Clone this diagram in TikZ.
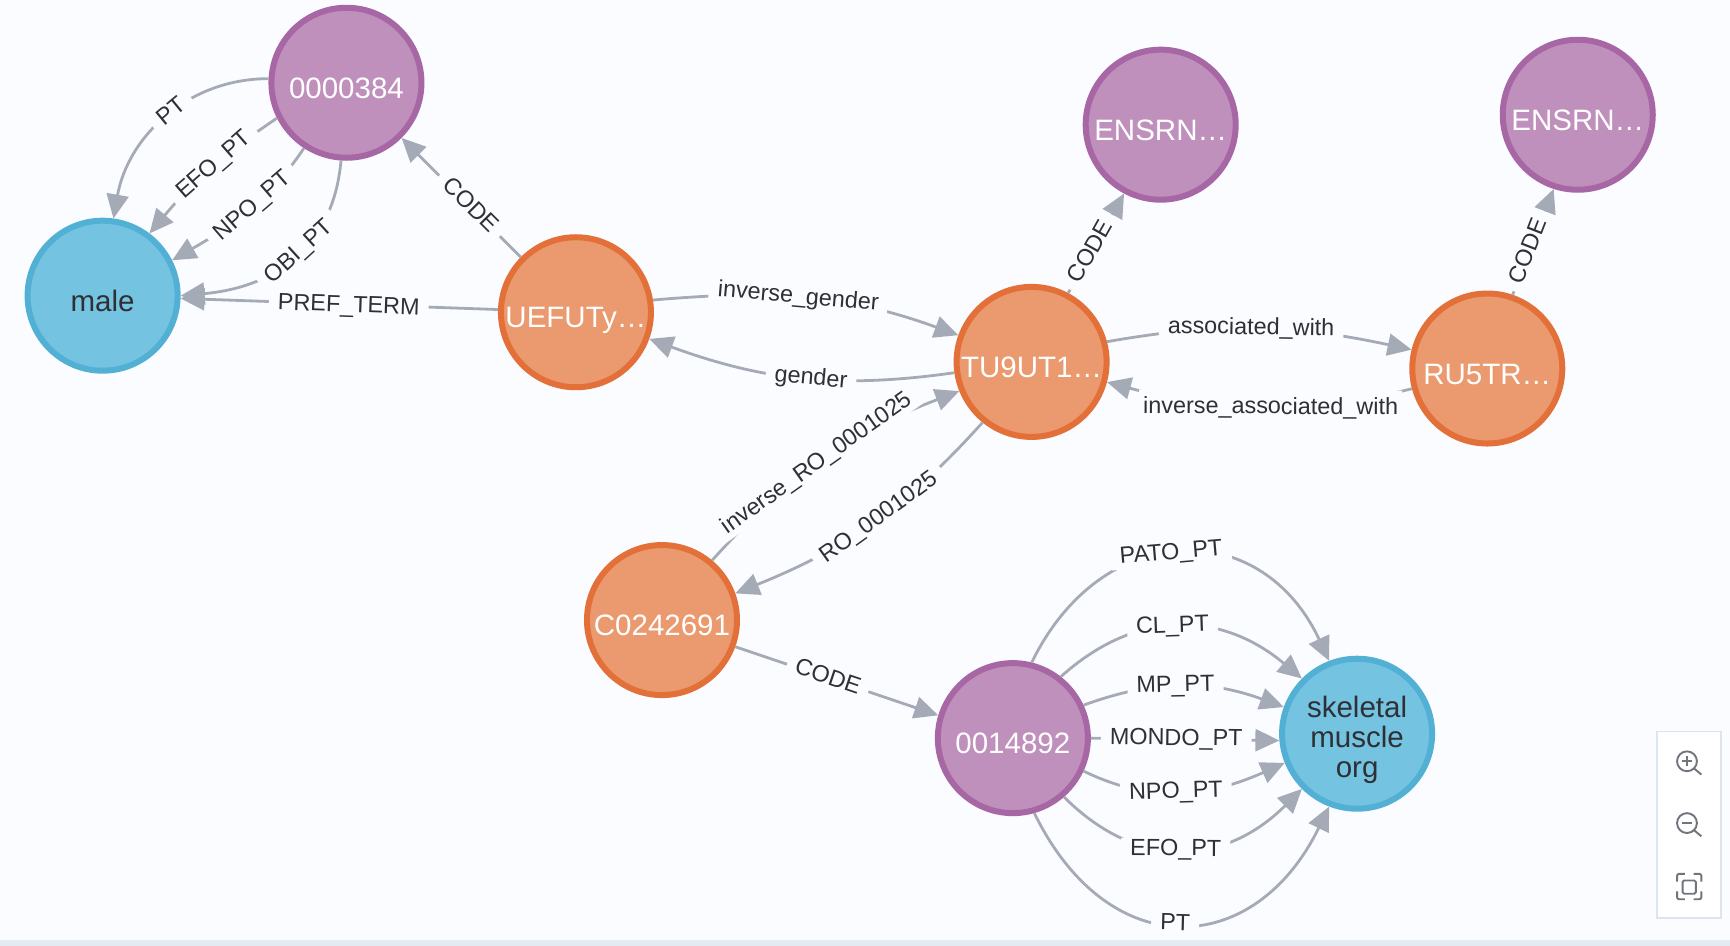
\documentclass[tikz,border=0pt]{standalone}
\usepackage{fontspec}
\setmainfont{Liberation Sans}
\usetikzlibrary{arrows.meta}
\definecolor{bgc}{HTML}{FBFCFF}
\definecolor{edgec}{HTML}{A5ABB6}
\definecolor{purf}{HTML}{C090BC}
\definecolor{purs}{HTML}{A767A5}
\definecolor{orf}{HTML}{EA9A6E}
\definecolor{ors}{HTML}{E27038}
\definecolor{bluf}{HTML}{74C3E0}
\definecolor{blus}{HTML}{53B0D5}
\definecolor{txtc}{HTML}{2E3036}
\definecolor{panelb}{HTML}{DCE5EE}
\definecolor{iconc}{HTML}{70747C}
\tikzset{
  circ/.style={circle,draw,line width=6pt,minimum size=150pt,inner sep=0pt,align=center,
    font=\fontsize{29.5}{29.8}\selectfont,text height=31pt,text depth=0pt},
  pur/.style={circ,fill=purf,draw=purs,text=white},
  org/.style={circ,fill=orf,draw=ors,text=white},
  blu/.style={circ,fill=bluf,draw=blus,text=txtc},
  lnk/.style={draw=edgec,line width=2.8pt,-{Triangle[length=24pt,width=22pt,fill=edgec]}},
  lbl/.style={fill=bgc,text=txtc,font=\fontsize{23.4}{23.4}\selectfont,inner xsep=9pt,inner ysep=1pt,
    sloped,text height=17pt,text depth=5pt},
  icon/.style={draw=iconc,line width=1.9pt}
}
\begin{document}
\begin{tikzpicture}[x=1.1033pt,y=-1.1033pt]
\useasboundingbox (0,0) rectangle (1568,857.4);
\fill[bgc] (0,0) rectangle (1568,857.4);
\fill[panelb!80!white] (0,852) rectangle (1568,857.4);
% nodes
\node[pur] (a) at (314,75) {0000384};
\node[blu] (m) at (93,268) {male};
\node[org] (u) at (522,283) {UEFUTy…};
\node[org] (t) at (935,328) {TU9UT1…};
\node[pur] (e1) at (1052,113) {ENSRN…};
\node[pur] (e2) at (1430,104) {ENSRN…};
\node[org] (r) at (1348,334) {RU5TR…};
\node[org] (c) at (600,562) {C0242691};
\node[pur] (n) at (918,669) {0014892};
\node[blu,text height=,text depth=] (s) at (1230,665) {\rule{0pt}{34pt}skeletal\\muscle\\org};
% edges
\draw[lnk] (a.177) to[out=180,in=80] node[lbl,pos=.46]{PT} (m.82);
\draw[lnk] (a.207) to[out=214,in=50] node[lbl,pos=.45]{EFO\_PT} (m.53);
\draw[lnk] (a.237) to[out=236,in=30] node[lbl,pos=.44]{NPO\_PT} (m.27);
\draw[lnk] (a.266) to[out=265,in=5,looseness=1.1] node[lbl,pos=.45]{OBI\_PT} (m.0);
\draw[lnk] (u.178) -- node[lbl,pos=.47,yshift=-2pt]{PREF\_TERM} (m.358);
\draw[lnk] (u.135) -- node[lbl,pos=.43]{CODE} (a.-45);
\draw[lnk] (u.9) to[out=5,in=160] node[lbl,pos=.465]{inverse\_gender} (t.160);
\draw[lnk] (t.188) to[out=188,in=-20] node[lbl,pos=.46]{gender} (u.-20);
\draw[lnk] (t.15) to[out=10,in=168] node[lbl,pos=.47]{associated\_with} (r.166);
\draw[lnk] (r.195) to[out=194,in=-15] node[lbl,pos=.46,inner xsep=4pt,inner ysep=7pt]{inverse\_associated\_with} (t.-15);
\draw[lnk] (c.50) to[out=48,in=201] node[lbl,pos=.47]{inverse\_RO\_0001025} (t.202);
\draw[lnk] (t.231) to[out=228,in=22] node[lbl,pos=.46]{RO\_0001025} (c.20);
\draw[lnk] (t.62) -- node[lbl,pos=.41]{CODE} (e1.-118);
\draw[lnk] (r.71) -- node[lbl,pos=.41]{CODE} (e2.-108);
\draw[lnk] (c.-20) -- node[lbl,pos=.455]{CODE} (n.163);
\draw[lnk] (n.76) to[out=64,in=115,looseness=1.38] node[lbl,pos=.47]{PATO\_PT} (s.111);
\draw[lnk] (n.52) to[out=42,in=140,looseness=1.1] node[lbl,pos=.467]{CL\_PT} (s.135);
\draw[lnk] (n.25) to[out=20,in=160] node[lbl,pos=.457]{MP\_PT} (s.160);
\draw[lnk] (n.0) -- node[lbl,pos=.453]{MONDO\_PT} (s.185);
\draw[lnk] (n.-25) to[out=-26,in=204] node[lbl,pos=.46]{NPO\_PT} (s.202);
\draw[lnk] (n.-49) to[out=-45,in=225,looseness=1.15] node[lbl,pos=.47]{EFO\_PT} (s.225);
\draw[lnk] (n.-74) to[out=-64,in=244,looseness=1.47] node[lbl,pos=.48]{PT} (s.249);
% zoom panel
\fill[white,draw=panelb,line width=1.6pt] (1502,663) rectangle (1560,832);
\draw[icon] (1529,690) circle (9);
\draw[icon] (1535.5,696.5) -- (1542,702);
\draw[icon] (1524.5,690) -- (1533.5,690) (1529,685.5) -- (1529,694.5);
\draw[icon] (1529,746) circle (9);
\draw[icon] (1535.5,752.5) -- (1542,758);
\draw[icon] (1524.5,746) -- (1533.5,746);
\draw[icon,rounded corners=1.5pt] (1525,798) rectangle (1537,810);
\draw[icon,rounded corners=2pt] (1520,799) -- (1520,792) -- (1527,792) (1535,792) -- (1542,792) -- (1542,799)
  (1542,808) -- (1542,815) -- (1535,815) (1527,815) -- (1520,815) -- (1520,808);
\end{tikzpicture}
\end{document}
